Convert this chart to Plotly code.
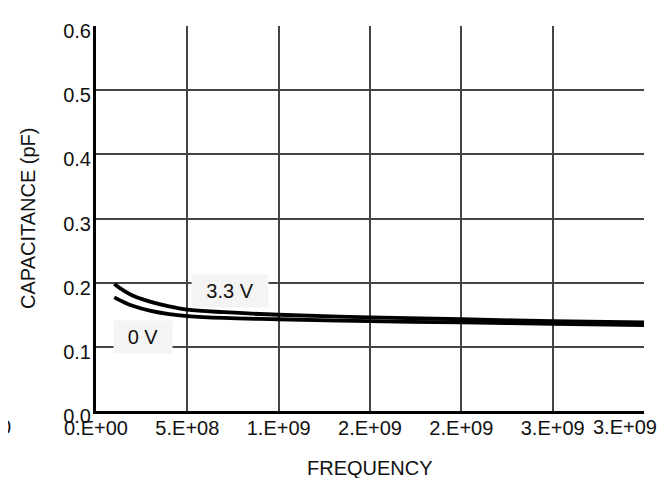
import plotly.graph_objects as go

# Data
freq = [1.0e8, 1.5e8, 2.0e8, 3.0e8, 4.0e8, 5.0e8, 7.0e8, 1.0e9, 1.5e9, 2.0e9, 2.5e9, 3.0e9]
cap_3v3 = [0.198, 0.188, 0.180, 0.170, 0.163, 0.158, 0.154, 0.150, 0.146, 0.143, 0.140, 0.138]
cap_0v = [0.177, 0.170, 0.164, 0.156, 0.151, 0.148, 0.145, 0.143, 0.140, 0.138, 0.136, 0.134]

x_tickvals = [0, 5e8, 1e9, 1.5e9, 2e9, 2.5e9]
x_ticktext = ["0.E+00", "5.E+08", "1.E+09", "2.E+09", "2.E+09", "3.E+09"]
x_last_val = 3e9
x_last_text = "3.E+09"
y_tickvals = [0.0, 0.1, 0.2, 0.3, 0.4, 0.5, 0.6]
y_ticktext = ["0.0", "0.1", "0.2", "0.3", "0.4", "0.5", "0.6"]

FONT = "Liberation Sans, Arial, sans-serif"
FS = 20

fig = go.Figure()
fig.add_trace(go.Scatter(x=freq, y=cap_3v3, mode="lines", line=dict(color="black", width=3.8, shape="spline"), showlegend=False))
fig.add_trace(go.Scatter(x=freq, y=cap_0v, mode="lines", line=dict(color="black", width=3.8, shape="spline"), showlegend=False))

fig.update_layout(
    width=666, height=478,
    margin=dict(l=88, r=30, t=18, b=75),
    paper_bgcolor="white", plot_bgcolor="white",
    font=dict(family=FONT, size=FS, color="#111"),
    showlegend=False,
)
fig.update_xaxes(
    range=[0, 3e9], tickmode="array", tickvals=x_tickvals + [x_last_val],
    ticktext=x_ticktext + [""], showgrid=True, gridcolor="#444", gridwidth=1.5,
    showline=True, linecolor="black", linewidth=3, ticks="", zeroline=False,
    tickfont=dict(size=FS), ticklabelstandoff=-3,
)
fig.update_yaxes(
    range=[0, 0.6], tickmode="array", tickvals=y_tickvals, ticktext=y_ticktext,
    showgrid=True, gridcolor="#444", gridwidth=1.5,
    showline=True, linecolor="black", linewidth=3, ticks="", zeroline=False,
    tickfont=dict(size=FS), ticklabelstandoff=-2, ticklabelshift=5,
)

ann = []
ann.append(dict(x=x_last_val, y=0, xref="x", yref="y", text=x_last_text, showarrow=False,
                xanchor="center", yanchor="top", xshift=-19, yshift=-3, font=dict(size=FS)))
ann.append(dict(x=-0.166, y=0, xref="paper", yref="y", text="0", showarrow=False,
                xanchor="center", yanchor="top", yshift=-3, font=dict(size=FS)))
ann.append(dict(x=7.34e8, y=0.187, xref="x", yref="y", text="3.3 V", showarrow=False,
                bgcolor="#f4f4f4", width=72, height=28, borderpad=2, font=dict(size=FS)))
ann.append(dict(x=2.57e8, y=0.1155, xref="x", yref="y", text="0 V", showarrow=False,
                bgcolor="#f4f4f4", width=54, height=28, borderpad=2, font=dict(size=FS)))
ann.append(dict(x=0.5, y=-0.148, xref="paper", yref="paper", text="FREQUENCY", showarrow=False,
                xanchor="center", yanchor="middle", font=dict(size=FS)))
ann.append(dict(x=-0.125, y=0.5, xref="paper", yref="paper", text="CAPACITANCE (pF)", showarrow=False,
                textangle=-90, xanchor="center", yanchor="middle", font=dict(size=FS)))
fig.update_layout(annotations=ann)

fig.write_html("out.html")
